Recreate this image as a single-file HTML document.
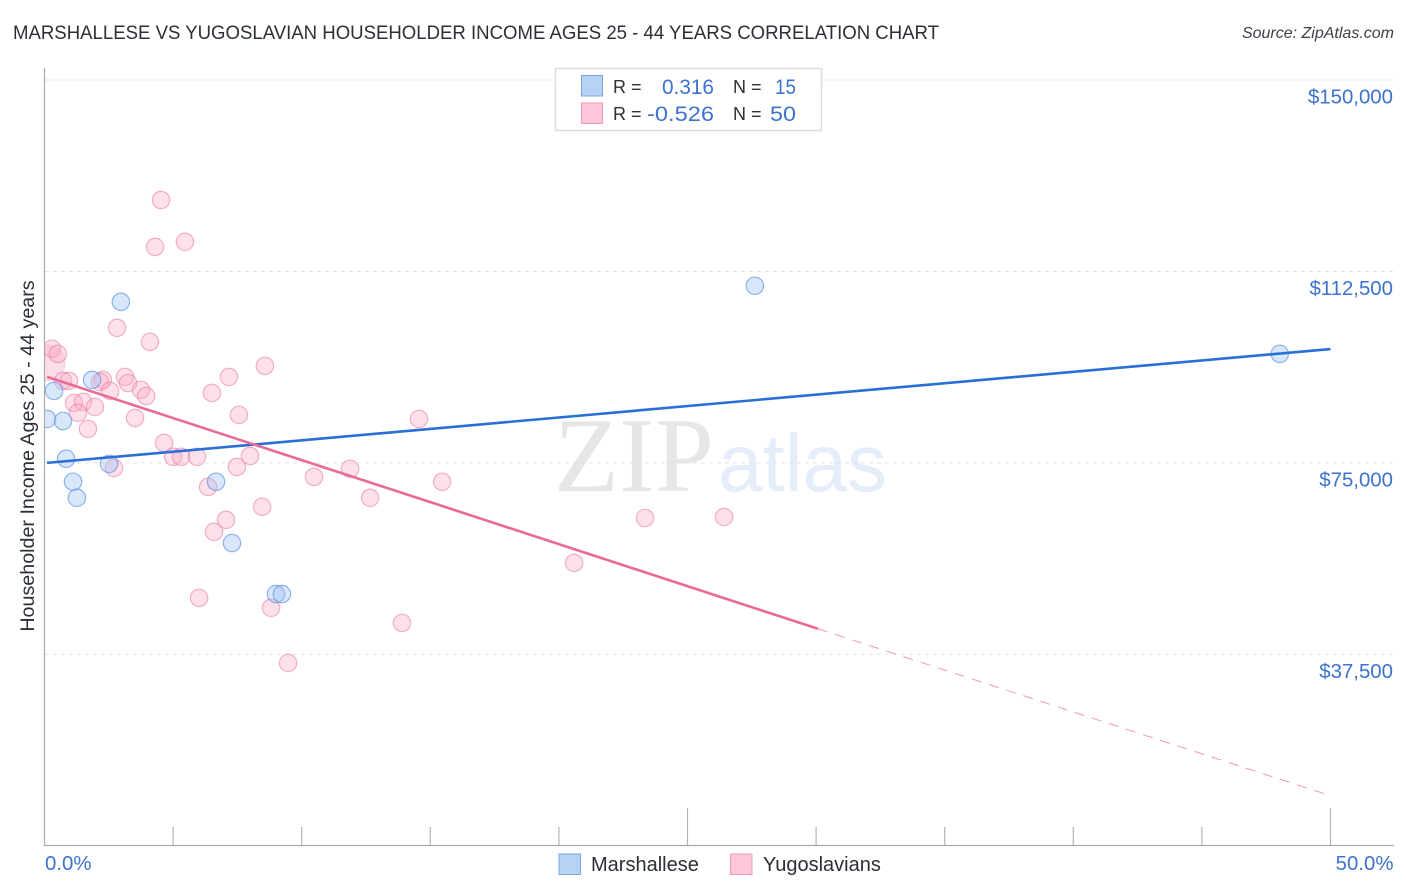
<!DOCTYPE html>
<html>
<head>
<meta charset="utf-8">
<title>Marshallese vs Yugoslavian Householder Income Correlation Chart</title>
<style>
html,body{margin:0;padding:0;background:#fff;}
svg{display:block;font-family:"Liberation Sans",sans-serif;}
</style>
</head>
<body>
<svg id="chart" width="1406" height="892" viewBox="0 0 1406 892" xmlns="http://www.w3.org/2000/svg">
  <defs><clipPath id="plot-clip"><rect x="45" y="60" width="1350" height="785"/></clipPath></defs>
  <text x="13" y="39" font-size="19.5" fill="#2b2f36" textLength="926" lengthAdjust="spacingAndGlyphs">MARSHALLESE VS YUGOSLAVIAN HOUSEHOLDER INCOME AGES 25 - 44 YEARS CORRELATION CHART</text>
  <text x="1394" y="38" font-size="16" font-style="italic" fill="#3c4048" text-anchor="end">Source: ZipAtlas.com</text>
  <text x="554" y="491" font-family="'Liberation Serif',serif" font-size="106" fill="#e6e6e6" textLength="160" lengthAdjust="spacingAndGlyphs">ZIP</text>
  <text x="718" y="491" font-size="82" fill="#e4edf9" textLength="169" lengthAdjust="spacingAndGlyphs">atlas</text>
  <g id="grid"></g>
  <g id="axes"></g>
  <g id="points" clip-path="url(#plot-clip)"></g>
  <g id="trends"></g>
  <g>
    <rect x="555.5" y="68.5" width="266" height="62" fill="#fff" stroke="#dcdcdc" stroke-width="1.5"/>
    <rect x="581.5" y="75.5" width="21" height="20.5" fill="#b8d2f6" stroke="#78a6e6" stroke-width="1"/>
    <rect x="581.5" y="103" width="21" height="20.5" fill="#fcc8da" stroke="#f09ab8" stroke-width="1"/>
    <g font-size="18" fill="#2b2f36">
      <text x="613" y="93">R =</text>
      <text x="613" y="120">R =</text>
      <text x="733" y="93">N =</text>
      <text x="733" y="120">N =</text>
    </g>
    <g font-size="21.5" fill="#3d72cf">
      <text x="662" y="94" textLength="52" lengthAdjust="spacingAndGlyphs">0.316</text>
      <text x="647" y="121" textLength="67" lengthAdjust="spacingAndGlyphs">-0.526</text>
      <text x="775" y="94" textLength="21" lengthAdjust="spacingAndGlyphs">15</text>
      <text x="770" y="121" textLength="26" lengthAdjust="spacingAndGlyphs">50</text>
    </g>
  </g>
  <g>
    <rect x="559" y="854" width="21.5" height="20.5" fill="#b8d2f6" stroke="#78a6e6" stroke-width="1"/>
    <text x="591" y="871" font-size="20" fill="#2b2f36">Marshallese</text>
    <rect x="730.5" y="854" width="21.5" height="20.5" fill="#fcc8da" stroke="#f09ab8" stroke-width="1"/>
    <text x="763" y="871" font-size="20" fill="#2b2f36">Yugoslavians</text>
  </g>
  <text transform="translate(34,456) rotate(-90)" font-size="19.7" fill="#2b2f36" text-anchor="middle">Householder Income Ages 25 - 44 years</text>
</svg>
<script>
const yTickValues = [150000, 112500, 75000, 37500];
const yTickLabels = ["$150,000", "$112,500", "$75,000", "$37,500"];
const xTickValues = [0, 5, 10, 15, 20, 25, 30, 35, 40, 45, 50];
const xMajorTicks = [0, 25, 50];
const xEndLabels = [0, 50];
const marshalleseX = [0.10,0.37,0.72,0.84,1.11,1.26,1.85,2.51,2.97,6.67,7.29,9.00,9.23,27.62,48.03];
const marshalleseY = [83600,89100,83200,75800,71300,68150,91250,74800,106550,71300,59300,49300,49300,109700,96350];
const yugoslavianX = [0.10,0.29,0.52,0.72,0.95,1.15,1.50,1.96,1.30,1.69,2.27,2.16,2.55,3.13,3.25,3.75,3.95,3.52,2.70,4.65,5.00,5.31,5.93,6.36,7.99,7.48,7.56,6.51,7.17,8.57,4.10,2.82,8.46,7.06,6.59,4.53,4.30,5.46,6.01,8.81,9.47,10.48,11.88,12.66,13.90,14.56,15.46,20.59,23.35,26.42];
const yugoslavianY = [94600,97350,96350,91050,91050,86750,86950,85950,84800,81650,91250,90850,89100,91850,90650,89300,88100,83800,74000,78900,76200,76200,76200,70300,76350,74200,84400,88700,91850,94000,98700,101450,66400,63850,61500,126500,117300,118300,48550,46600,35800,72250,73850,68150,43650,83600,71300,55400,64200,64400];
const yugoslavianWeights = [2.1,1,1,1,1,1,1,1,1,1,1,1,1,1,1,1,1,1,1,1,1,1,1,1,1,1,1,1,1,1,1,1,1,1,1,1,1,1,1,1,1,1,1,1,1,1,1,1,1,1];
const marshalleseTrendX = [0.10, 50];
const marshalleseTrendY = [75000, 97300];
const yugoslavianTrendX = [0.10, 30.07, 50];
const yugoslavianTrendY = [91850, 42500, 9800];

const SVGNS = "http://www.w3.org/2000/svg";
function xScale(v){ return 44.5 + v * 25.72; }
function yScale(v){ return 654.3 - (v - 37500) / 195.9; }
function make(tag, parent, attrs){
  const el = document.createElementNS(SVGNS, tag);
  for (const k in attrs) el.setAttribute(k, attrs[k]);
  parent.appendChild(el);
  return el;
}
const gridG = document.getElementById("grid");
const axesG = document.getElementById("axes");
const pointsG = document.getElementById("points");
const trendsG = document.getElementById("trends");

yTickValues.forEach(function(v, i){
  const line = make("line", gridG, {x1:45, x2:1394, y1:yScale(v), y2:yScale(v), stroke:"#e2e2e2", "stroke-width":1, "stroke-dasharray":"4 4"});
  
  
  const label = make("text", axesG, {x:1393, y:yScale(v) + 23.5, "font-size":20.4, fill:"#3d72cf", "text-anchor":"end"});
  label.textContent = yTickLabels[i];
  
  
});

const yAxis = make("line", axesG, {x1:44.5, x2:44.5, y1:68, y2:846, stroke:"#aaaaaa", "stroke-width":1.2});


const xAxis = make("line", axesG, {x1:44, x2:1394, y1:845.5, y2:845.5, stroke:"#aaaaaa", "stroke-width":1.2});



xTickValues.forEach(function(v){
  const top = xMajorTicks.indexOf(v) >= 0 ? 808 : 827;
  if (v === 0) return;
  const tick = make("line", axesG, {x1:xScale(v), x2:xScale(v), y1:top, y2:845, stroke:"#b4b4b4", "stroke-width":1.2});
  
  
});
xEndLabels.forEach(function(v){
  const label = make("text", axesG, {x: v === 0 ? 45 : 1393.5, y:870, "font-size":20.4, fill:"#3d72cf", "text-anchor": v === 0 ? "start" : "end"});
  label.textContent = v.toFixed(1) + "%";
  
  
});

yugoslavianX.forEach(function(v, i){
  const big = yugoslavianWeights[i] > 1;
  const c = make("circle", pointsG, {cx:xScale(v), cy:yScale(yugoslavianY[i]), r:8.7 * yugoslavianWeights[i], fill: big ? "rgba(249,170,198,0.4)" : "rgba(249,170,198,0.36)", stroke: big ? "rgba(240,150,180,0.18)" : "rgba(230,120,160,0.55)", "stroke-width":1.2});
  
  
});
marshalleseX.forEach(function(v, i){
  const c = make("circle", pointsG, {cx:xScale(v), cy:yScale(marshalleseY[i]), r:8.7, fill:"rgba(160,196,244,0.4)", stroke:"rgba(90,145,225,0.65)", "stroke-width":1.2});
  
  
});

const blueTrend = make("line", trendsG, {x1:xScale(marshalleseTrendX[0]), y1:yScale(marshalleseTrendY[0]), x2:xScale(marshalleseTrendX[1]), y2:yScale(marshalleseTrendY[1]), stroke:"#2a6fd6", "stroke-width":2.6});


const pinkTrend = make("line", trendsG, {x1:xScale(yugoslavianTrendX[0]), y1:yScale(yugoslavianTrendY[0]), x2:xScale(yugoslavianTrendX[1]), y2:yScale(yugoslavianTrendY[1]), stroke:"#e8699a", "stroke-width":2.6});


const pinkDash = make("line", trendsG, {x1:xScale(yugoslavianTrendX[1]), y1:yScale(yugoslavianTrendY[1]), x2:xScale(yugoslavianTrendX[2]), y2:yScale(yugoslavianTrendY[2]), stroke:"#ee9ab8", "stroke-width":1, "stroke-dasharray":"10 8"});


</script>
</body>
</html>
